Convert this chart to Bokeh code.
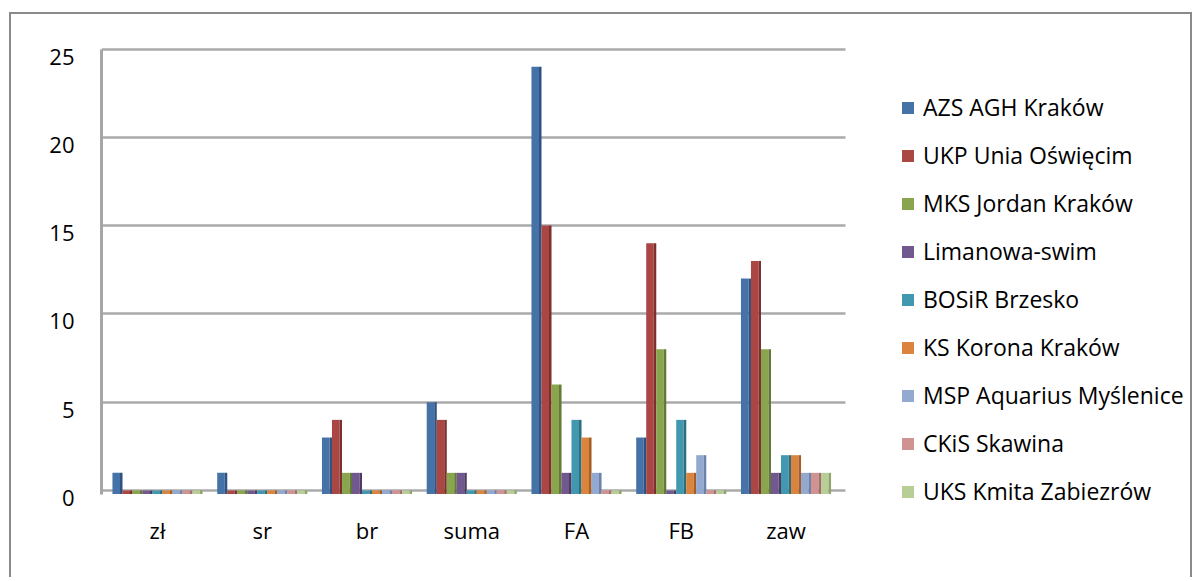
from bokeh.plotting import figure
from bokeh.models import (Range1d, Legend, LegendItem, FixedTicker, ColumnDataSource,
                          BoxAnnotation, LinearAxis)
from bokeh.transform import dodge
from bokeh.embed import file_html
from bokeh.resources import INLINE

categories = ["zł", "sr", "br", "suma", "FA", "FB", "zaw"]
series = ["AZS AGH Kraków", "UKP Unia Oświęcim", "MKS Jordan Kraków", "Limanowa-swim",
          "BOSiR Brzesko", "KS Korona Kraków", "MSP Aquarius Myślenice", "CKiS Skawina",
          "UKS Kmita Zabiezrów"]
azs = [1, 1, 3, 5, 24, 3, 12]
ukp = [0, 0, 4, 4, 15, 14, 13]
mks = [0, 0, 1, 1, 6, 8, 8]
lim = [0, 0, 1, 1, 1, 0, 1]
bosir = [0, 0, 0, 0, 4, 4, 2]
korona = [0, 0, 0, 0, 3, 1, 2]
msp = [0, 0, 0, 0, 1, 2, 1]
ckis = [0, 0, 0, 0, 0, 0, 1]
uks = [0, 0, 0, 0, 0, 0, 1]
y_ticks = [0, 5, 10, 15, 20, 25]

values = [azs, ukp, mks, lim, bosir, korona, msp, ckis, uks]
colors = ["#4572A7", "#AA4643", "#89A54E", "#71588F", "#4198AF", "#DB843D",
          "#93A9CF", "#D19392", "#B9CD96"]
side_colors = ["#2F5380", "#7E2F2D", "#627A35", "#4F3C66", "#2C6F81", "#A55E25",
               "#6A82AC", "#A56E6D", "#8FA56C"]

FONT = "Open Sans"
keys = ["s%d" % i for i in range(len(series))]
cat_pos = list(range(len(categories)))
data = {"x": cat_pos}
for k, v in zip(keys, values):
    data[k] = v
source = ColumnDataSource(data)

X_LEFT, X_WALL_END, X_RIGHT = -0.5346, 6.568, 9.8997
Y_START, Y_END = -1.699, 25.2
LABEL_SHIFT = 0.425  # tick labels sit a little below their gridlines (3-D front edge)

p = figure(
    width=1183, height=565,
    x_range=Range1d(X_LEFT, X_RIGHT),
    y_range=Range1d(Y_START, Y_END),
    output_backend="svg", toolbar_location=None,
    min_border_left=90, min_border_right=0, min_border_top=31, min_border_bottom=59,
    styles={"margin-left": "9px", "margin-top": "12px",
            "border-top": "2px solid #8a8a8a", "border-left": "2px solid #8a8a8a",
            "border-right": "2px solid #8a8a8a"},
)
p.outline_line_color = None
p.background_fill_color = "white"
p.border_fill_color = "white"

p.xgrid.grid_line_color = None
p.ygrid.ticker = FixedTicker(ticks=y_ticks)
p.ygrid.grid_line_color = "#ABABAB"
p.ygrid.grid_line_width = 2.5
p.yaxis.visible = False

# blank out the grid beyond the chart's back wall (legend area)
p.add_layout(BoxAnnotation(left=X_WALL_END, fill_color="white", fill_alpha=1.0,
                           line_color=None, level="underlay"))

p.extra_y_ranges = {"lab": Range1d(Y_START + LABEL_SHIFT, Y_END + LABEL_SHIFT)}
yax = LinearAxis(y_range_name="lab", ticker=FixedTicker(ticks=y_ticks),
                 bounds=(-0.2 + LABEL_SHIFT, 25 + LABEL_SHIFT))
yax.major_tick_line_color = None
yax.minor_tick_line_color = None
yax.major_label_standoff = 21
yax.axis_line_color = "#A6A6A6"
yax.axis_line_width = 3
yax.major_label_text_font = FONT
yax.major_label_text_font_size = "22px"
yax.major_label_text_color = "black"
p.add_layout(yax, "left")

p.xaxis.ticker = FixedTicker(ticks=cat_pos)
p.xaxis.major_label_overrides = {i: c for i, c in zip(cat_pos, categories)}
p.xaxis.major_tick_line_color = None
p.xaxis.minor_tick_line_color = None
p.xaxis.axis_line_color = None
p.xaxis.major_label_standoff = -12
p.xaxis.major_label_text_font = FONT
p.xaxis.major_label_text_font_size = "22px"
p.xaxis.major_label_text_color = "black"

bw = 0.0955
items = []
for i, (k, name) in enumerate(zip(keys, series)):
    off = (i - 4) * bw
    face = p.vbar(x=dodge("x", off - 0.012), top=k, bottom=-0.2,
                  width=0.072, source=source, fill_color=colors[i], line_color=None)
    p.vbar(x=dodge("x", off + 0.036), top=k, bottom=-0.2,
           width=0.024, source=source, fill_color=side_colors[i], line_color=None)
    items.append(LegendItem(label=name, renderers=[face]))

legend = Legend(items=items, location=(799, 13), orientation="vertical",
                label_text_font=FONT, label_text_font_size="23px", label_text_color="black",
                glyph_width=15, glyph_height=15, label_height=32, spacing=16,
                label_standoff=8, padding=0, margin=0, border_line_color=None,
                background_fill_alpha=0)
p.add_layout(legend)

open("out.html", "w").write(file_html(p, INLINE))
